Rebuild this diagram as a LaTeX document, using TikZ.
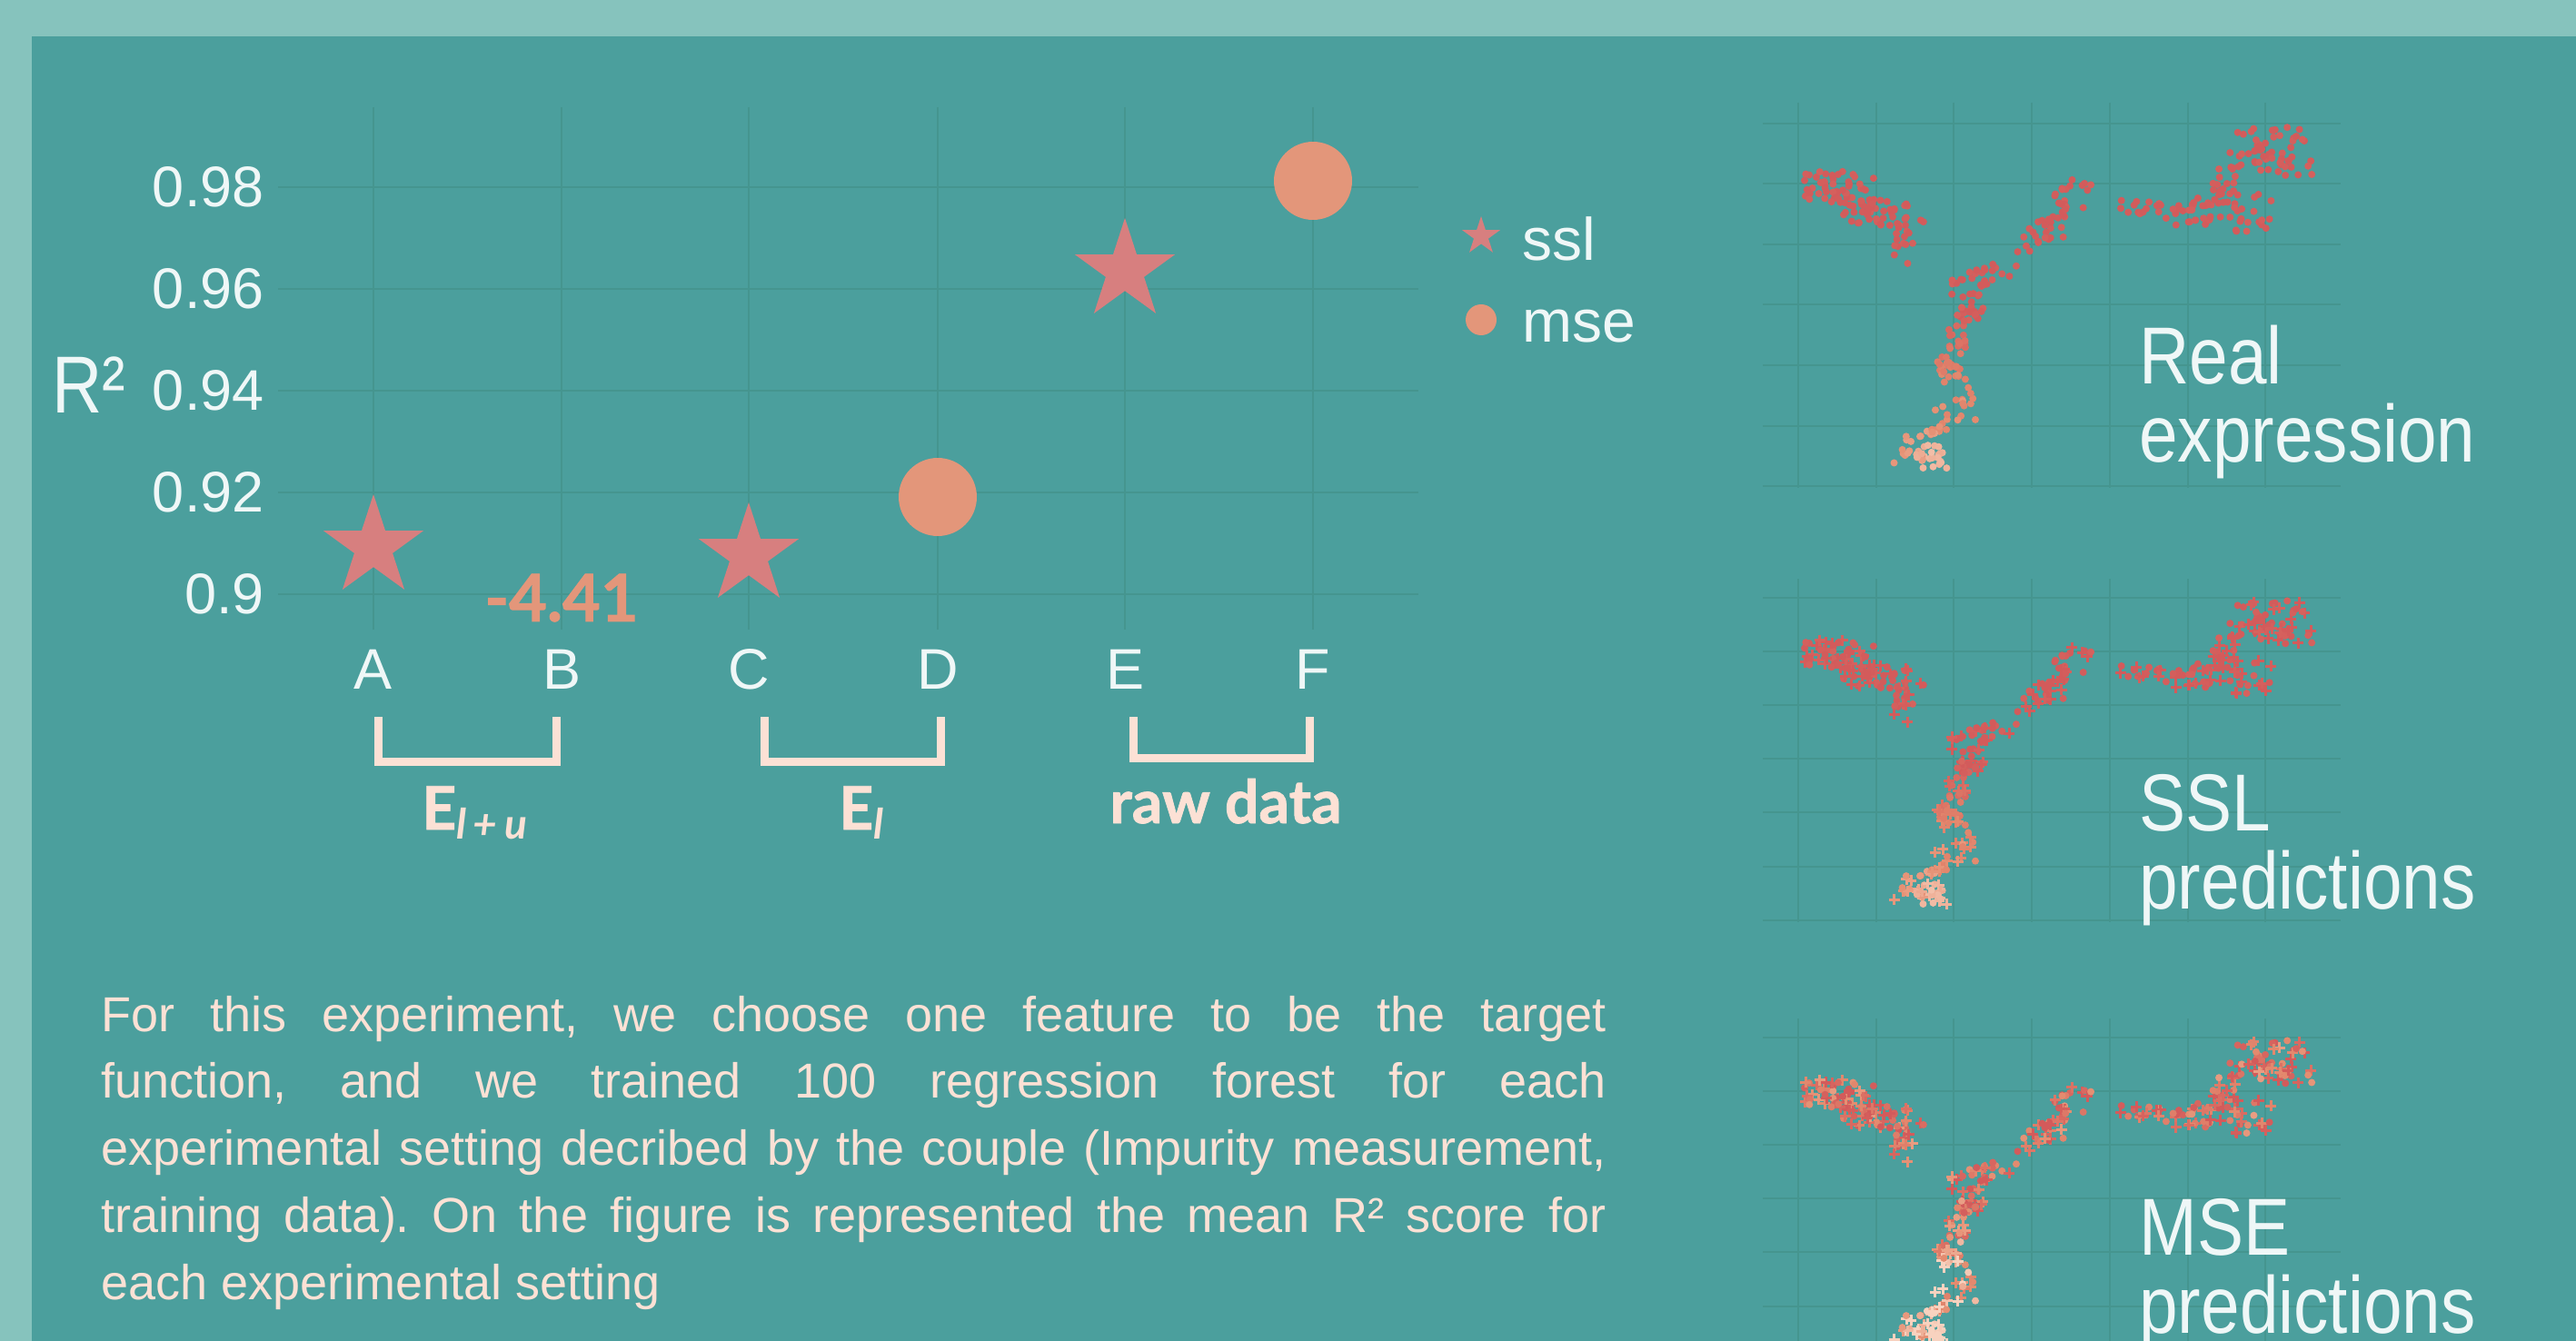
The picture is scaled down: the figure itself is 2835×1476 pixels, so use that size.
\documentclass[tikz,border=0pt]{standalone}
\usepackage{fontspec}
\setmainfont{Liberation Sans}
\newfontfamily\latofont{Lato}[BoldFeatures={FakeBold=1.2}]
\newfontfamily\narrowfont{Liberation Sans}[FakeStretch=0.86]
\usetikzlibrary{shapes.geometric, positioning}

\definecolor{frame}{HTML}{86C3BD}
\definecolor{panel}{HTML}{4B9F9D}
\definecolor{gridcol}{HTML}{45958F}
\definecolor{sslcol}{HTML}{D77F7F}
\definecolor{msecol}{HTML}{E3967A}
\definecolor{peach}{HTML}{FCE1D5}
\definecolor{labcol}{HTML}{EFF7F7}
\definecolor{ptred}{HTML}{D35B5B}
\definecolor{ptorange}{HTML}{E48C6F}
\definecolor{ptpale}{HTML}{F8D2BF}

\tikzstyle{sslmark} = [star, star points=5, star point ratio=2.618, fill=sslcol, 
inner sep=0pt, minimum size=58pt]
\tikzstyle{msemark} = [circle, fill=msecol, inner sep=0pt, minimum size=43pt]
\tikzstyle{tick} = [text=labcol, inner sep=0pt, font=\fontsize{31.5}{36}\selectfont]
\tikzstyle{legtext} = [text=labcol, inner sep=0pt, font=\fontsize{33}{38}\selectfont]
\tikzstyle{bracket} = [line width=4.5pt, draw=peach]
\tikzstyle{grp} = [text=peach, inner sep=0pt, font=\latofont\fontsize{33}{38}\selectfont]
\tikzstyle{gridline} = [line width=1pt, draw=gridcol]
\tikzstyle{cloudlab} = [text=labcol, inner sep=0pt, align=left, 
font=\narrowfont\fontsize{44.5}{43}\selectfont]

\newcommand{\subtext}[1]{\raisebox{-5pt}{\fontsize{23}{23}\selectfont\itshape #1}}

% #1 y offset, #2 y factor, #3 share of crosses, #4 colour noise, #5 colour bias
\newcommand{\cellplot}[5]{%
  \foreach \k in {0,...,6}{
    \draw[gridline] (1979+85.7*\k, #1+#2*113) -- (1979+85.7*\k, #1+#2*537);
    \draw[gridline] (1940, #1+#2*136+#2*66.5*\k) -- (2576, #1+#2*136+#2*66.5*\k);
  }
  \pgfmathsetseed{11}
  \foreach \xa/\ya/\xb/\yb/\sp/\n/\ha/\hb in {
    1992/203/2058/214/18/55/0/0, 2030/232/2110/240/15/42/0/0,
    2085/258/2100/278/14/14/0/0, 2288/210/2230/280/18/48/0/0,
    2210/296/2145/318/12/26/0/0, 2172/334/2168/342/14/22/0/5,
    2160/350/2145/395/12/22/5/40, 2145/398/2160/450/16/32/40/60,
    2140/452/2125/482/10/16/55/65, 2095/493/2135/500/17/38/60/85,
    2330/226/2380/230/8/14/0/0, 2400/225/2485/236/22/60/0/0,
    2440/205/2470/180/12/14/0/0, 2470/160/2530/170/25/58/0/0}{
    \foreach \i in {1,...,\n}{
      \pgfmathsetmacro{\tpos}{rnd}
      \pgfmathsetmacro{\px}{\xa+(\xb-\xa)*\tpos+\sp*rand}
      \pgfmathsetmacro{\py}{#1+#2*(\ya+(\yb-\ya)*\tpos+\sp*rand)}
      \pgfmathsetmacro{\hh}{max(0,min(100,\ha+(\hb-\ha)*\tpos+#4*rand+#5))}
      \pgfmathtruncatemacro{\ho}{min(100,\hh*100/60)}
      \pgfmathtruncatemacro{\hr}{100-max(0,(\hh-60)*100/40)}
      \pgfmathtruncatemacro{\cross}{rnd<#3}
      \colorlet{dotcol}{ptorange!\ho!ptred!\hr!ptpale}
      \ifnum\cross=1
        \draw[dotcol, line width=1.5pt] (\px,\py) +(-6,0) -- +(6,0) +(0,-6) -- +(0,6);
      \else
        \fill[dotcol] (\px,\py) circle[radius=2pt];
      \fi
    }
  }
}

\begin{document}
\begin{tikzpicture}[x=0.5pt, y=-0.5pt]
\useasboundingbox (0,0) rectangle (2835,1476);
\fill[frame] (0,0) rectangle (2835,1476);
\fill[panel] (35,40) rectangle (2835,1476);

% score chart
\foreach \y in {206,318,430,542,654}
  \draw[gridline] (306,\y) -- (1561,\y);
\foreach \x in {411,618,824,1032,1238,1445}
  \draw[gridline] (\x,118) -- (\x,693);

\node[tick, anchor=east] (t98) at (291,206) {0.98};
\node[tick, anchor=east] (t96) at (291,318) {0.96};
\node[tick, anchor=east] (t94) at (291,430) {0.94};
\node[tick, anchor=east] (t92) at (291,542) {0.92};
\node[tick, anchor=east] (t90) at (291,654) {0.9};
\node[text=labcol, inner sep=0pt, font=\narrowfont\fontsize{44.5}{50}\selectfont] 
(rsq) at (98,424) {R²};

\node[tick] (labA) at (411,737) {A};
\node[tick] (labB) at (618,737) {B};
\node[tick] (labC) at (824,737) {C};
\node[tick] (labD) at (1032,737) {D};
\node[tick] (labE) at (1238,737) {E};
\node[tick] (labF) at (1445,737) {F};

\node[sslmark] (markA) at (411,602) {};
\node[sslmark] (markC) at (824,611) {};
\node[sslmark] (markE) at (1238,298) {};
\node[msemark] (markD) at (1032,547) {};
\node[msemark] (markF) at (1445,199) {};
\node[text=msecol, inner sep=0pt, font=\latofont\bfseries\fontsize{36}{40}\selectfont] 
(markB) at (618,658) {-4.41};

\draw[bracket] (416,789) |- (612,838) -- (612,789);
\draw[bracket] (841,789) |- (1035,838) -- (1035,789);
\draw[bracket] (1247,789) |- (1441,834) -- (1441,789);
\node[grp, anchor=base west] (grpLU) at (464,913) {\bfseries E\subtext{l\,+\,u}};
\node[grp, anchor=base west] (grpL) at (923,913) {\bfseries E\subtext{l}};
\node[grp, anchor=base] (grpRaw) at (1349,906) {\bfseries raw data};

% legend
\node[sslmark, minimum size=22pt] (legssl) at (1630,260) {};
\node[msemark, minimum size=17pt] (legmse) at (1630,352) {};
\node[legtext, anchor=base west] (legssltxt) at (1675,287) {ssl};
\node[legtext, anchor=base west] (legmsetxt) at (1675,377) {mse};

% note
\node[anchor=base west, inner sep=0pt, text width=828pt, align=justify, text=peach, 
font=\frenchspacing\fontsize{27}{36.9}\selectfont] (note) at (111,1135) {For this 
experiment, we choose one feature to be the target\linebreak function, and we trained 
100 regression forest for each\linebreak experimental setting decribed by the couple 
(Impurity measurement,\linebreak training data). On the figure is represented the mean 
R² score for\linebreak each experimental setting};

% expression plots
\cellplot{0}{1}{0}{8}{0}
\cellplot{536.6}{0.89}{0.45}{10}{0}
\cellplot{1020.6}{0.89}{0.5}{45}{25}
\node[cloudlab, anchor=base west] (realtxt) at (2354,508) {Real\\expression};
\node[cloudlab, anchor=base west] (ssltxt) at (2354,1000) {SSL\\predictions};
\node[cloudlab, anchor=base west] (msetxt) at (2354,1467) {MSE\\predictions};
\end{tikzpicture}
\end{document}
